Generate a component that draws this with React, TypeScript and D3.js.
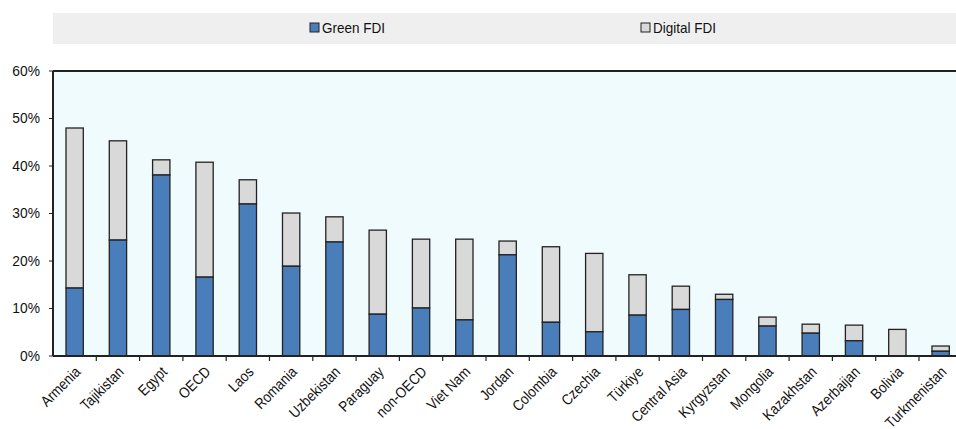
import React from "react";
import * as d3 from "d3";

const categories = ["Armenia","Tajikistan","Egypt","OECD","Laos","Romania","Uzbekistan","Paraguay","non-OECD","Viet Nam","Jordan","Colombia","Czechia","Türkiye","Central Asia","Kyrgyzstan","Mongolia","Kazakhstan","Azerbaijan","Bolivia","Turkmenistan"];
const greenFDI = [14.3,24.4,38.1,16.6,32.0,18.9,24.0,8.8,10.1,7.6,21.3,7.1,5.1,8.6,9.8,11.9,6.3,4.8,3.2,0,1.0];
const totalFDI = [48.0,45.3,41.3,40.8,37.1,30.1,29.3,26.5,24.6,24.6,24.2,23.0,21.6,17.1,14.7,13.0,8.2,6.7,6.5,5.6,2.1];
const digitalFDI = totalFDI.map((t, i) => +(t - greenFDI[i]).toFixed(1));
const yTicks = [0,10,20,30,40,50,60];
const seriesNames = ["Green FDI","Digital FDI"];

const W = 956, H = 429;
const left = 53, top = 71, bottom = 356;
const FONT = "'Liberation Sans', Arial, sans-serif";
const BLUE = "#4a7ebb";
const GREY = "#d9d9d9";

export default function App() {
  const step = 43.3;
  const x = d3.scaleBand<string>().domain(categories).range([left, left + step * categories.length]).paddingInner(0.6).paddingOuter(0.3);
  const y = d3.scaleLinear().domain([0, 60]).range([bottom, top]);
  const bw = x.bandwidth();
  return (
    <svg width={W} height={H} style={{ position: "absolute", left: 0, top: 0, background: "#fff" }}>
      {/* legend */}
      <rect x={53} y={13} width={W - 53} height={31} fill="#efefef" />
      <rect x={310} y={23} width={9} height={9} fill={BLUE} stroke="#222" strokeWidth={1} />
      <text x={322} y={33} fontFamily={FONT} fontSize={15} fill="#111" transform="translate(322,0) scale(0.9,1) translate(-322,0)">{seriesNames[0]}</text>
      <rect x={641} y={23} width={9} height={9} fill={GREY} stroke="#222" strokeWidth={1} />
      <text x={653} y={33} fontFamily={FONT} fontSize={15} fill="#111" transform="translate(653,0) scale(0.9,1) translate(-653,0)">{seriesNames[1]}</text>
      {/* plot bg */}
      <rect x={left} y={top} width={W - left} height={bottom - top} fill="#f0fbfe" />
      {/* bars */}
      {categories.map((c, i) => (
        <g key={c}>
          <rect x={x(c)} y={y(totalFDI[i])} width={bw} height={y(totalFDI[i] - digitalFDI[i]) - y(totalFDI[i])} fill={GREY} stroke="#222" strokeWidth={1.3} />
          {greenFDI[i] > 0 && (
            <rect x={x(c)} y={y(greenFDI[i])} width={bw} height={y(0) - y(greenFDI[i])} fill={BLUE} stroke="#222" strokeWidth={1.3} />
          )}
        </g>
      ))}
      {/* axes */}
      <line x1={left} x2={W} y1={top} y2={top} stroke="#222" strokeWidth={2} />
      <line x1={left} x2={left} y1={top} y2={bottom} stroke="#222" strokeWidth={2} />
      <line x1={left} x2={W} y1={bottom} y2={bottom} stroke="#222" strokeWidth={2} />
      {yTicks.map(t => (
        <g key={t}>
          <line x1={left - 4} x2={left} y1={y(t)} y2={y(t)} stroke="#222" strokeWidth={1} />
          <text x={40} y={y(t) + 5} textAnchor="end" fontFamily={FONT} fontSize={15} fill="#111" transform={`translate(40,0) scale(0.92,1) translate(-40,0)`}>{t}%</text>
        </g>
      ))}
      {categories.map((c, i) => i > 0 ? (
        <line key={"t" + c} x1={x(c)! - (x.step() - bw) / 2} x2={x(c)! - (x.step() - bw) / 2} y1={bottom} y2={bottom + 5} stroke="#222" strokeWidth={1.2} />
      ) : null)}
      {categories.map(c => {
        const cx = x(c)! + bw / 2 - 1;
        const cy = bottom + 9;
        return (
          <text key={"l" + c} transform={`translate(${cx},${cy}) rotate(-45) scale(0.88,1)`} textAnchor="end" dominantBaseline="hanging" fontFamily={FONT} fontSize={15} fill="#111">{c}</text>
        );
      })}
    </svg>
  );
}
